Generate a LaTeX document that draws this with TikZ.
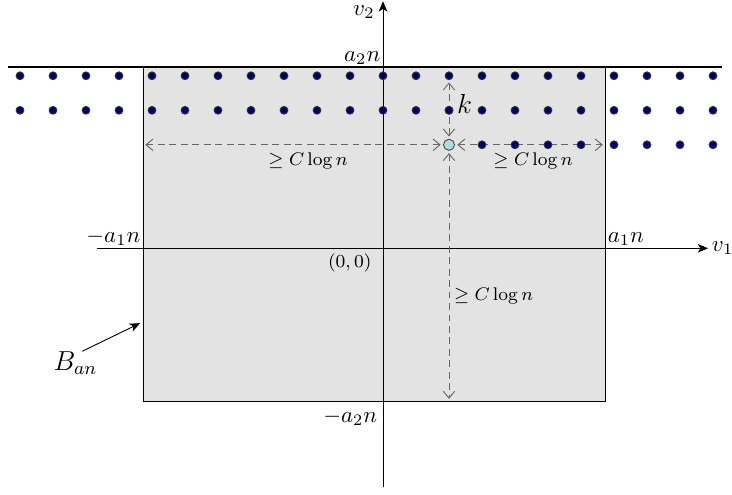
\documentclass[tikz,border=0pt]{standalone}
\usetikzlibrary{arrows.meta}
\definecolor{dotblue}{RGB}{0,0,115}
\definecolor{seedcyan}{RGB}{170,222,224}
\tikzset{
  lattice/.style={circle, fill=dotblue, draw=black!80, inner sep=0pt, minimum size=1.2mm},
  seed/.style={circle, fill=seedcyan, draw=black!70, inner sep=0pt, minimum size=1.7mm},
  gap/.style={dash pattern=on 3pt off 2pt, black!60, <->, >={Straight Barb[length=3pt,width=5pt]}, shorten <=1pt, shorten >=1pt},
  dist/.style={font=\footnotesize, text=black}
}
\begin{document}
\begin{tikzpicture}[>={Stealth[length=4.5pt,width=3.8pt,inset=1.2pt]}, x=0.5066cm, y=0.5296cm]
\useasboundingbox (-11.606,-7.151) rectangle (10.576,7.197);
\coordinate (o) at (0,0);
\coordinate (sw) at (-7.27,-4.43);
\coordinate (ne) at (6.73,5.246);
\coordinate (bt) at (-7.36,-2.17);
% the box B_an
\draw[fill=black!11] (sw) rectangle (ne);
\draw[thick](-11.36,5.246)--(10.27,5.246);
\draw[->](-8.67,0)--(9.85,0)node[right, inner sep=1.5pt](v1){$v_1$};
\draw[->](0,-6.93)--(0,7.16)node[below left, inner sep=.5pt, xshift=-3pt, yshift=-1pt](v2){$v_2$};
\node[above left, inner sep=1pt](top) at (o |- ne){$a_2n$};
\node[below left](bot) at ([xshift=1pt]o |- sw){$-a_2n$};
\node[above left, inner sep=1pt](lft) at (sw |- o){$-a_1n$};
\node[above right, inner sep=1pt](rgt) at (ne |- o){$a_1n$};
\node[below left, inner sep=2pt, font=\footnotesize](orig) at (-0.2,0){$(0,0)$};
% lattice points
\foreach \c in {-11,...,10}
{
    \node[lattice](d\c-5) at (\c,5){};
    \node[lattice](d\c-4) at (\c,4){};
}
\node[seed](s) at (2,3){};
\draw[gap](s -| sw)--(s.west)node[dist, below, pos=.55](gl){$\geq C\log n$};
\draw[gap](s.east)--(s -| ne)node[dist, below, pos=.52](gr){$\geq C\log n$};
\draw[gap](s.north)--(d2-5.south)node[right, pos=.6, font=\large, text=black](k){$k$};
\draw[gap](s.south)--(s |- sw)node[dist, right, pos=.58, inner sep=2pt](gd){$\geq C\log n$};
\foreach \c in {3,...,10}
    \node[lattice](d\c-3) at (\c,3){};
\node[lattice] at (2,4){};
\node[font=\large, inner sep=0pt](ban) at (-9.32,-3.33){$B_{an}$};
\draw[->]([xshift=3pt]ban.north)--(bt);
\end{tikzpicture}
\end{document}
